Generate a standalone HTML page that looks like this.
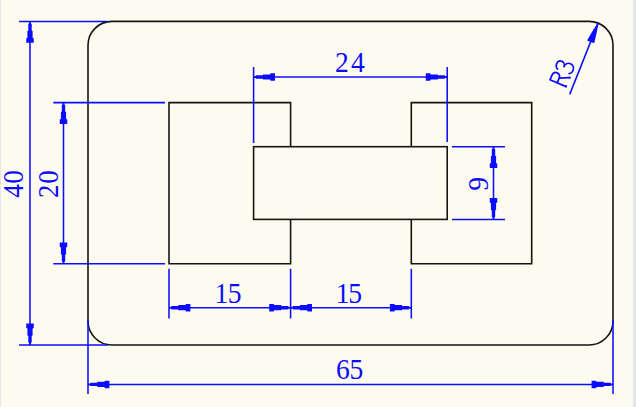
<!DOCTYPE html>
<html><head><meta charset="utf-8"><style>
html,body{margin:0;padding:0;background:#FDFBF0;}
body{width:636px;height:407px;overflow:hidden;position:relative;}
svg{position:absolute;left:0;top:0;display:block;}
text{font-family:"Liberation Serif", serif;}
</style></head><body>
<svg width="636" height="407" viewBox="0 0 636 407">
<rect x="0" y="0" width="636" height="407" fill="#FDFBF0"/>
<rect x="0" y="0" width="1" height="407" fill="#E1E7EB"/>
<rect x="633" y="0" width="3" height="407" fill="#E1E7EB"/>
<rect x="88.00" y="21.40" width="525.00" height="323.60" rx="24" ry="24" fill="none" stroke="#141414" stroke-width="1.60"/>
<path d="M290.60 146.70 V102.60 H169.00 V263.80 H290.60 V219.40" fill="none" stroke="#141414" stroke-width="1.60" stroke-linejoin="miter"/>
<path d="M411.30 146.70 V102.60 H531.70 V263.80 H411.30 V219.40" fill="none" stroke="#141414" stroke-width="1.60"/>
<rect x="253.60" y="146.70" width="193.60" height="72.70" fill="none" stroke="#141414" stroke-width="1.60"/>
<line x1="19.00" y1="21.40" x2="107.00" y2="21.40" stroke="#0c0cff" stroke-width="1.55"/>
<line x1="19.00" y1="344.90" x2="108.00" y2="344.90" stroke="#0c0cff" stroke-width="1.55"/>
<line x1="30.00" y1="21.40" x2="30.00" y2="344.90" stroke="#0c0cff" stroke-width="1.55"/>
<polygon points="30.50,21.40 30.90,23.40 31.70,24.00 31.70,30.40 32.60,31.00 32.60,37.80 33.75,38.40 33.75,42.80 26.25,42.80 26.25,38.40 27.40,37.80 27.40,31.00 28.30,30.40 28.30,24.00 29.10,23.40 29.50,21.40" fill="#0c0cff"/>
<polygon points="29.50,344.90 29.10,342.90 28.30,342.30 28.30,335.90 27.40,335.30 27.40,328.50 26.25,327.90 26.25,323.50 33.75,323.50 33.75,327.90 32.60,328.50 32.60,335.30 31.70,335.90 31.70,342.30 30.90,342.90 30.50,344.90" fill="#0c0cff"/>
<text transform="translate(23.40,197.68) rotate(-90) scale(0.920,1)" font-size="29.60" fill="#0c0cff">4</text>
<text transform="translate(23.40,183.81) rotate(-90) scale(0.920,1)" font-size="29.60" fill="#0c0cff">0</text>
<line x1="53.30" y1="102.60" x2="165.00" y2="102.60" stroke="#0c0cff" stroke-width="1.55"/>
<line x1="53.30" y1="263.80" x2="165.00" y2="263.80" stroke="#0c0cff" stroke-width="1.55"/>
<line x1="63.50" y1="102.60" x2="63.50" y2="263.80" stroke="#0c0cff" stroke-width="1.55"/>
<polygon points="64.00,102.60 64.40,104.60 65.20,105.20 65.20,111.60 66.10,112.20 66.10,119.00 67.25,119.60 67.25,124.00 59.75,124.00 59.75,119.60 60.90,119.00 60.90,112.20 61.80,111.60 61.80,105.20 62.60,104.60 63.00,102.60" fill="#0c0cff"/>
<polygon points="63.00,263.80 62.60,261.80 61.80,261.20 61.80,254.80 60.90,254.20 60.90,247.40 59.75,246.80 59.75,242.40 67.25,242.40 67.25,246.80 66.10,247.40 66.10,254.20 65.20,254.80 65.20,261.20 64.40,261.80 64.00,263.80" fill="#0c0cff"/>
<text transform="translate(58.10,197.98) rotate(-90) scale(0.920,1)" font-size="29.20" fill="#0c0cff">2</text>
<text transform="translate(58.10,183.72) rotate(-90) scale(0.920,1)" font-size="29.20" fill="#0c0cff">0</text>
<line x1="253.60" y1="67.00" x2="253.60" y2="143.00" stroke="#0c0cff" stroke-width="1.55"/>
<line x1="447.20" y1="67.00" x2="447.20" y2="142.00" stroke="#0c0cff" stroke-width="1.55"/>
<line x1="253.60" y1="77.00" x2="447.20" y2="77.00" stroke="#0c0cff" stroke-width="1.55"/>
<polygon points="253.60,76.50 255.60,76.10 256.20,75.30 262.60,75.30 263.20,74.40 270.00,74.40 270.60,73.25 275.00,73.25 275.00,80.75 270.60,80.75 270.00,79.60 263.20,79.60 262.60,78.70 256.20,78.70 255.60,77.90 253.60,77.50" fill="#0c0cff"/>
<polygon points="447.20,77.50 445.20,77.90 444.60,78.70 438.20,78.70 437.60,79.60 430.80,79.60 430.20,80.75 425.80,80.75 425.80,73.25 430.20,73.25 430.80,74.40 437.60,74.40 438.20,75.30 444.60,75.30 445.20,76.10 447.20,76.50" fill="#0c0cff"/>
<text transform="translate(334.94,72.40) scale(0.920,1)" font-size="30.00" fill="#0c0cff">2</text>
<text transform="translate(350.88,72.40) scale(0.920,1)" font-size="30.00" fill="#0c0cff">4</text>
<line x1="169.00" y1="268.80" x2="169.00" y2="318.50" stroke="#0c0cff" stroke-width="1.55"/>
<line x1="290.60" y1="268.80" x2="290.60" y2="318.50" stroke="#0c0cff" stroke-width="1.55"/>
<line x1="411.30" y1="268.80" x2="411.30" y2="318.50" stroke="#0c0cff" stroke-width="1.55"/>
<line x1="169.00" y1="307.70" x2="411.30" y2="307.70" stroke="#0c0cff" stroke-width="1.55"/>
<polygon points="169.00,307.20 171.00,306.80 171.60,306.00 178.00,306.00 178.60,305.10 185.40,305.10 186.00,303.95 190.40,303.95 190.40,311.45 186.00,311.45 185.40,310.30 178.60,310.30 178.00,309.40 171.60,309.40 171.00,308.60 169.00,308.20" fill="#0c0cff"/>
<polygon points="290.60,308.20 288.60,308.60 288.00,309.40 281.60,309.40 281.00,310.30 274.20,310.30 273.60,311.45 269.20,311.45 269.20,303.95 273.60,303.95 274.20,305.10 281.00,305.10 281.60,306.00 288.00,306.00 288.60,306.80 290.60,307.20" fill="#0c0cff"/>
<polygon points="290.60,307.20 292.60,306.80 293.20,306.00 299.60,306.00 300.20,305.10 307.00,305.10 307.60,303.95 312.00,303.95 312.00,311.45 307.60,311.45 307.00,310.30 300.20,310.30 299.60,309.40 293.20,309.40 292.60,308.60 290.60,308.20" fill="#0c0cff"/>
<polygon points="411.30,308.20 409.30,308.60 408.70,309.40 402.30,309.40 401.70,310.30 394.90,310.30 394.30,311.45 389.90,311.45 389.90,303.95 394.30,303.95 394.90,305.10 401.70,305.10 402.30,306.00 408.70,306.00 409.30,306.80 411.30,307.20" fill="#0c0cff"/>
<text transform="translate(214.39,303.40) scale(0.920,1)" font-size="30.00" fill="#0c0cff">1</text>
<text transform="translate(227.67,303.40) scale(0.920,1)" font-size="30.00" fill="#0c0cff">5</text>
<text transform="translate(335.84,303.40) scale(0.920,1)" font-size="30.00" fill="#0c0cff">1</text>
<text transform="translate(348.32,303.40) scale(0.920,1)" font-size="30.00" fill="#0c0cff">5</text>
<line x1="88.00" y1="320.00" x2="88.00" y2="394.00" stroke="#0c0cff" stroke-width="1.55"/>
<line x1="613.00" y1="320.00" x2="613.00" y2="394.00" stroke="#0c0cff" stroke-width="1.55"/>
<line x1="88.00" y1="384.40" x2="613.00" y2="384.40" stroke="#0c0cff" stroke-width="1.55"/>
<polygon points="88.00,383.90 90.00,383.50 90.60,382.70 97.00,382.70 97.60,381.80 104.40,381.80 105.00,380.65 109.40,380.65 109.40,388.15 105.00,388.15 104.40,387.00 97.60,387.00 97.00,386.10 90.60,386.10 90.00,385.30 88.00,384.90" fill="#0c0cff"/>
<polygon points="613.00,384.90 611.00,385.30 610.40,386.10 604.00,386.10 603.40,387.00 596.60,387.00 596.00,388.15 591.60,388.15 591.60,380.65 596.00,380.65 596.60,381.80 603.40,381.80 604.00,382.70 610.40,382.70 611.00,383.50 613.00,383.90" fill="#0c0cff"/>
<text transform="translate(336.09,378.60) scale(0.920,1)" font-size="30.00" fill="#0c0cff">6</text>
<text transform="translate(349.62,378.60) scale(0.920,1)" font-size="30.00" fill="#0c0cff">5</text>
<line x1="452.00" y1="146.70" x2="505.00" y2="146.70" stroke="#0c0cff" stroke-width="1.55"/>
<line x1="452.00" y1="219.40" x2="505.00" y2="219.40" stroke="#0c0cff" stroke-width="1.55"/>
<line x1="493.50" y1="146.70" x2="493.50" y2="219.40" stroke="#0c0cff" stroke-width="1.55"/>
<polygon points="494.00,146.70 494.40,148.70 495.20,149.30 495.20,155.70 496.10,156.30 496.10,163.10 497.25,163.70 497.25,168.10 489.75,168.10 489.75,163.70 490.90,163.10 490.90,156.30 491.80,155.70 491.80,149.30 492.60,148.70 493.00,146.70" fill="#0c0cff"/>
<polygon points="493.00,219.40 492.60,217.40 491.80,216.80 491.80,210.40 490.90,209.80 490.90,203.00 489.75,202.40 489.75,198.00 497.25,198.00 497.25,202.40 496.10,203.00 496.10,209.80 495.20,210.40 495.20,216.80 494.40,217.40 494.00,219.40" fill="#0c0cff"/>
<text transform="translate(487.90,190.81) rotate(-90) scale(0.920,1)" font-size="30.00" fill="#0c0cff">9</text>
<line x1="569.70" y1="94.40" x2="598.10" y2="23.10" stroke="#0c0cff" stroke-width="1.55"/>
<polygon points="598.47,23.25 597.92,26.26 596.54,33.24 594.97,40.15 594.16,43.27 587.09,40.46 588.65,37.64 592.26,31.54 596.06,25.52 597.73,22.95" fill="#0c0cff"/>
<path transform="translate(566,86.6) rotate(-67) scale(1,-1)" d="M0,0 L0,17.4 M0,17.4 L4.6,17.4 C7.9,17.4 9.2,15.9 9.2,13.5 C9.2,11.1 7.9,9.6 4.6,9.6 L0,9.6 M5.2,9.6 L9.7,0 M12.9,14.6 C13.6,16.6 15.4,17.5 17.2,17.5 C19.8,17.5 21.6,16.0 21.6,13.6 C21.6,11.2 19.6,9.7 17.6,9.7 C20.5,9.7 22.8,7.6 22.8,4.8 C22.8,1.8 20.5,-0.2 17.6,-0.2 C15.5,-0.2 13.9,0.8 13.2,2.2" fill="none" stroke="#0c0cff" stroke-width="1.7" stroke-linecap="round" stroke-linejoin="round"/>
<g transform="translate(566,86.6) rotate(-67) scale(1,-1)" fill="#0c0cff"><circle cx="0.3" cy="0.3" r="1.25"/><circle cx="9.7" cy="0.2" r="1.0"/></g>
</svg>
</body></html>
